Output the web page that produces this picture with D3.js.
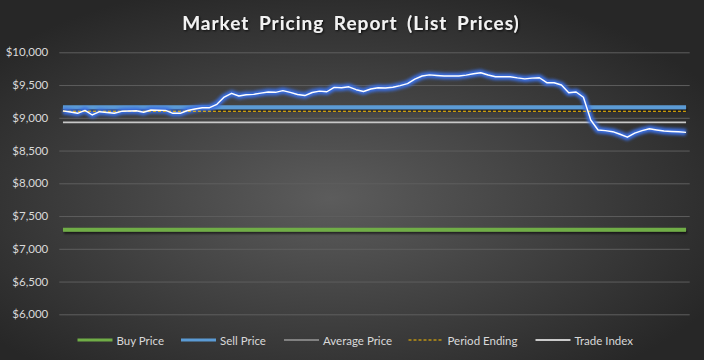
<!DOCTYPE html>
<html>
<head>
<meta charset="utf-8">
<script src="https://cdn.jsdelivr.net/npm/d3@7"></script>
<style>
  body { margin: 0; background: #262626; }
  svg { display: block; }
</style>
</head>
<body>
<svg></svg>
<script>
// chart values

let title = 'Market Pricing Report (List Prices)'
let yTicks = [6000, 6500, 7000, 7500, 8000, 8500, 9000, 9500, 10000]
let legendNames = ['Buy Price', 'Sell Price', 'Average Price', 'Period Ending', 'Trade Index']

// flat reference levels
let buyPrice = 7290
let sellPrice = 9160
let averagePrice = 8930
let periodEnding = 9100

// trade index, one value per period
let tradeIndex = [
  9105, 9088, 9069, 9114, 9043, 9093, 9081, 9069, 9099, 9104,
  9107, 9085, 9119, 9116, 9113, 9069, 9069, 9111, 9134, 9154,
  9154, 9206, 9317, 9374, 9333, 9351, 9357, 9377, 9394, 9389,
  9414, 9388, 9356, 9340, 9386, 9408, 9398, 9464, 9459, 9473,
  9429, 9401, 9440, 9459, 9455, 9467, 9492, 9522, 9589, 9638,
  9655, 9646, 9638, 9638, 9638, 9652, 9672, 9688, 9653, 9627,
  9627, 9627, 9609, 9594, 9605, 9612, 9536, 9535, 9501, 9383,
  9394, 9313, 8966, 8814, 8804, 8788, 8749, 8704, 8765, 8804,
  8832, 8814, 8798, 8791, 8786, 8778
]

let W = 704, H = 360
let plotLeft = 59.3, plotRight = 689.7, plotTop = 52.3, plotBottom = 314.3

let svg = d3.select('svg').attr('width', W).attr('height', H)
let defs = svg.append('defs')

// background gradient
let bg = defs.append('radialGradient').attr('id', 'bg')
  .attr('cx', '47%').attr('cy', '55%').attr('r', '62%')
bg.append('stop').attr('offset', '0%').attr('stop-color', '#5c5c5c')
bg.append('stop').attr('offset', '100%').attr('stop-color', '#272727')
svg.append('rect').attr('width', W).attr('height', H).attr('fill', 'url(#bg)')

// glow and shadow filters
let glow = defs.append('filter').attr('id', 'glow')
  .attr('x', '-5%').attr('y', '-20%').attr('width', '110%').attr('height', '140%')
glow.append('feGaussianBlur').attr('stdDeviation', 1.7)

let shadow = defs.append('filter').attr('id', 'shadow')
  .attr('filterUnits', 'userSpaceOnUse')
  .attr('x', 0).attr('y', 0).attr('width', W).attr('height', H)
shadow.append('feDropShadow').attr('dx', 1).attr('dy', 2).attr('stdDeviation', 1.2)
  .attr('flood-color', '#000').attr('flood-opacity', 0.6)

let textShadow = defs.append('filter').attr('id', 'tshadow')
textShadow.append('feDropShadow').attr('dx', 1).attr('dy', 1).attr('stdDeviation', 0.8)
  .attr('flood-color', '#000').attr('flood-opacity', 0.8)

// scales
let x = d3.scalePoint()
  .domain(d3.range(tradeIndex.length))
  .range([plotLeft, plotRight])
  .padding(0.5)

let y = d3.scaleLinear()
  .domain([6000, 10000])
  .range([plotBottom, plotTop])

// axis with gridlines
let yAxis = d3.axisLeft(y)
  .tickValues(yTicks)
  .tickFormat(d3.format('$,'))
  .tickSize(-(plotRight - plotLeft))
  .tickPadding(11)

let ax = svg.append('g')
  .attr('transform', 'translate(' + plotLeft + ',0)')
  .call(yAxis)
ax.select('.domain').remove()
ax.selectAll('line').attr('stroke', '#5e5e5e').attr('stroke-width', 1)
ax.selectAll('text')
  .attr('fill', '#d9d9d9')
  .style('font-family', 'Lato, sans-serif')
  .style('font-size', '11.5px')

// title
svg.append('text')
  .attr('x', 351).attr('y', 30)
  .attr('text-anchor', 'middle')
  .attr('fill', '#f2f2f2')
  .attr('filter', 'url(#tshadow)')
  .style('font-family', 'Lato, sans-serif')
  .style('font-size', '19px')
  .style('font-weight', 'bold')
  .style('letter-spacing', '1px')
  .style('word-spacing', '4px')
  .text(title)

let x0 = x(0), x1 = x(tradeIndex.length - 1)

function level(v, color, width, dash, filt) {
  let l = svg.append('line')
    .attr('x1', x0).attr('x2', x1)
    .attr('y1', y(v)).attr('y2', y(v))
    .attr('stroke', color)
    .attr('stroke-width', width)
  if (dash) l.attr('stroke-dasharray', dash)
  if (filt) l.attr('filter', filt)
  return l
}

level(buyPrice, '#70ad47', 4, null, 'url(#shadow)')
level(sellPrice, '#5b9bd5', 4, null, 'url(#shadow)')
level(averagePrice, '#c8c8c8', 1.6, null, null)

// trade index line with blue glow
let lineGen = d3.line()
  .x(function(d, i) { return x(i) })
  .y(function(d) { return y(d) })

svg.append('path')
  .attr('d', lineGen(tradeIndex))
  .attr('fill', 'none')
  .attr('stroke', '#3a6ee0')
  .attr('stroke-width', 6.5)
  .attr('stroke-linejoin', 'round')
  .attr('filter', 'url(#glow)')

level(periodEnding, '#ffc000', 1, '3,2', null)

svg.append('path')
  .attr('d', lineGen(tradeIndex))
  .attr('fill', 'none')
  .attr('stroke', '#ffffff')
  .attr('stroke-width', 1.4)
  .attr('stroke-linejoin', 'round')

// legend
let legendX = [77.5, 181, 284, 408.5, 535.5]
let legendStyle = [
  { c: '#70ad47', w: 3, dash: null },
  { c: '#5b9bd5', w: 3, dash: null },
  { c: '#c8c8c8', w: 1.2, dash: null },
  { c: '#ffc000', w: 1, dash: '3,2' },
  { c: '#ffffff', w: 1.4, dash: null }
]

let lg = svg.selectAll('.legend')
  .data(legendNames)
  .enter().append('g')
  .attr('class', 'legend')
  .attr('transform', function(d, i) { return 'translate(' + legendX[i] + ',340)' })

lg.append('line')
  .attr('x1', 0).attr('x2', 35)
  .attr('y1', 0).attr('y2', 0)
  .attr('stroke', function(d, i) { return legendStyle[i].c })
  .attr('stroke-width', function(d, i) { return legendStyle[i].w })
  .attr('stroke-dasharray', function(d, i) { return legendStyle[i].dash })

lg.append('text')
  .attr('x', 39).attr('y', 4.5)
  .attr('fill', '#d9d9d9')
  .style('font-family', 'Lato, sans-serif')
  .style('font-size', '11.5px')
  .text(function(d) { return d })
</script>
</body>
</html>
